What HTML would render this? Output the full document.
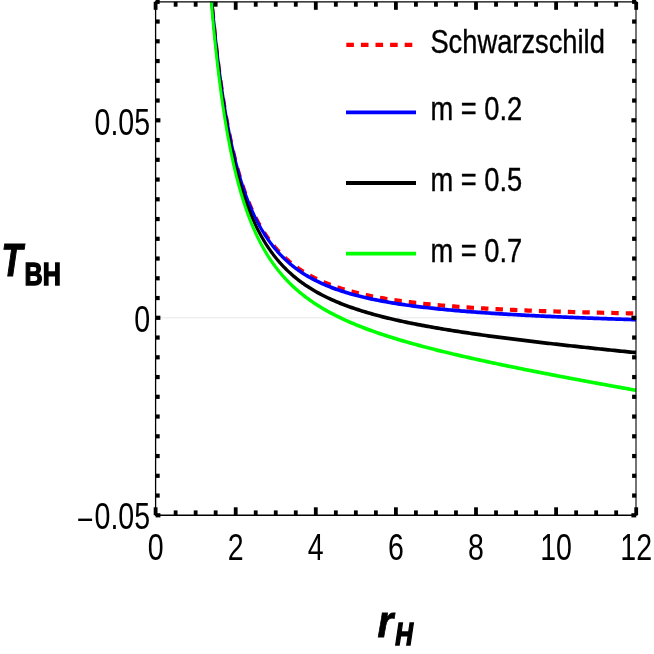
<!DOCTYPE html>
<html lang="en"><head><meta charset="utf-8"><title>T_BH vs r_H</title>
<style>html,body{margin:0;padding:0;background:#fff;}body{width:654px;height:654px;overflow:hidden;position:relative;font-family:"Liberation Sans",sans-serif;}</style></head>
<body>
<svg width="654" height="654" viewBox="0 0 654 654" style="position:absolute;left:0;top:0;will-change:transform;-webkit-font-smoothing:antialiased">
<rect x="0" y="0" width="654" height="654" fill="#fff"/>
<line x1="155.6" y1="317.8" x2="636.2" y2="317.8" stroke="#e8e8e8" stroke-width="1.0"/>
<defs><clipPath id="c"><rect x="194.49999999999997" y="1.8" width="600.75" height="513.5"/></clipPath></defs>
<g transform="scale(0.8,1)" clip-path="url(#c)" fill="none" stroke-width="3.7" stroke-linejoin="round">
<path d="M259.58,-54.18 L260.58,-42.99 L261.58,-32.30 L262.58,-22.08 L263.59,-12.30 L264.59,-2.94 L265.59,6.04 L266.59,14.64 L267.59,22.88 L268.59,30.80 L269.59,38.40 L270.59,45.71 L271.60,52.73 L272.60,59.48 L273.60,65.98 L274.60,72.24 L275.60,78.26 L276.60,84.07 L277.60,89.67 L278.61,95.07 L279.61,100.28 L280.61,105.31 L281.61,110.16 L282.61,114.85 L283.61,119.39 L284.61,123.77 L285.61,128.02 L286.62,132.12 L287.62,136.09 L288.62,139.94 L289.62,143.66 L290.62,147.27 L291.62,150.77 L292.62,154.16 L293.62,157.45 L294.62,160.64 L295.63,163.74 L296.63,166.74 L297.63,169.66 L298.63,172.50 L299.63,175.25 L300.63,177.93 L301.63,180.53 L302.63,183.06 L303.64,185.52 L304.64,187.92 L305.64,190.24 L306.64,192.51 L307.64,194.72 L308.64,196.87 L309.64,198.96 L310.64,201.00 L311.65,202.99 L312.65,204.93 L313.65,206.82 L314.65,208.66 L315.65,210.46 L316.65,212.21 L317.65,213.92 L318.66,215.59 L319.66,217.22 L320.66,218.81 L321.66,220.36 L322.66,221.88 L323.66,223.36 L324.66,224.81 L325.66,226.22 L326.66,227.60 L327.67,228.95 L328.67,230.27 L329.67,231.57 L330.67,232.83 L331.67,234.07 L332.67,235.27 L333.67,236.46 L334.68,237.62 L335.68,238.75 L336.68,239.86 L337.68,240.95 L338.68,242.01 L339.68,243.05 L340.68,244.07 L341.68,245.07 L342.69,246.05 L343.69,247.01 L344.69,247.95 L345.69,248.87 L346.69,249.78 L347.69,250.66 L348.69,251.53 L349.69,252.38 L350.70,253.22 L351.70,254.04 L352.70,254.85 L353.70,255.63 L354.70,256.41 L355.70,257.17 L356.70,257.92 L357.70,258.65 L358.71,259.37 L359.71,260.07 L360.71,260.77 L361.71,261.45 L362.71,262.12 L363.71,262.77 L364.71,263.42 L365.71,264.05 L366.72,264.68 L367.72,265.29 L368.72,265.89 L369.72,266.48 L370.72,267.06 L371.72,267.64 L372.72,268.20 L373.72,268.75 L374.73,269.29 L375.73,269.83 L376.73,270.35 L377.73,270.87 L378.73,271.38 L379.73,271.88 L380.73,272.37 L381.73,272.86 L382.74,273.33 L383.74,273.80 L384.74,274.27 L385.74,274.72 L386.74,275.17 L387.74,275.61 L388.74,276.04 L389.74,276.47 L390.75,276.89 L391.75,277.30 L392.75,277.71 L393.75,278.11 L394.75,278.51 L397.25,279.47 L399.76,280.40 L402.26,281.30 L404.76,282.16 L407.27,283.00 L409.77,283.80 L412.27,284.58 L414.77,285.33 L417.28,286.05 L419.78,286.76 L422.28,287.43 L424.79,288.09 L427.29,288.73 L429.79,289.34 L432.30,289.94 L434.80,290.52 L437.30,291.07 L439.81,291.62 L442.31,292.14 L444.81,292.65 L447.32,293.15 L449.82,293.63 L452.32,294.10 L454.82,294.55 L457.33,294.99 L459.83,295.42 L462.33,295.84 L464.84,296.24 L467.34,296.64 L469.84,297.02 L472.35,297.39 L474.85,297.75 L477.35,298.11 L479.86,298.45 L482.36,298.79 L484.86,299.11 L487.37,299.43 L489.87,299.74 L492.37,300.04 L494.87,300.34 L497.38,300.63 L499.88,300.91 L502.38,301.18 L504.89,301.45 L507.39,301.71 L509.89,301.96 L512.40,302.21 L514.90,302.45 L517.40,302.69 L519.91,302.92 L522.41,303.15 L524.91,303.37 L527.42,303.58 L529.92,303.80 L532.42,304.00 L534.92,304.20 L537.43,304.40 L539.93,304.60 L542.43,304.79 L544.94,304.97 L547.44,305.15 L549.94,305.33 L552.45,305.50 L554.95,305.67 L557.45,305.84 L559.96,306.00 L562.46,306.16 L564.96,306.32 L567.47,306.47 L569.97,306.62 L572.47,306.77 L574.97,306.92 L577.48,307.06 L579.98,307.20 L582.48,307.33 L584.99,307.47 L587.49,307.60 L589.99,307.73 L592.50,307.85 L595.00,307.98 L597.50,308.10 L600.01,308.22 L602.51,308.34 L605.01,308.45 L607.52,308.56 L610.02,308.67 L612.52,308.78 L615.02,308.89 L617.53,309.00 L620.03,309.10 L622.53,309.20 L625.04,309.30 L627.54,309.40 L630.04,309.49 L632.55,309.59 L635.05,309.68 L637.55,309.77 L640.06,309.86 L642.56,309.95 L645.06,310.04 L647.57,310.12 L650.07,310.21 L652.57,310.29 L655.08,310.37 L657.58,310.45 L660.08,310.53 L662.58,310.61 L665.09,310.69 L667.59,310.76 L670.09,310.83 L672.60,310.91 L675.10,310.98 L677.60,311.05 L680.11,311.12 L682.61,311.19 L685.11,311.25 L687.62,311.32 L690.12,311.39 L692.62,311.45 L695.13,311.51 L697.63,311.58 L700.13,311.64 L702.63,311.70 L705.14,311.76 L707.64,311.82 L710.14,311.87 L712.65,311.93 L715.15,311.99 L717.65,312.04 L720.16,312.10 L722.66,312.15 L725.16,312.21 L727.67,312.26 L730.17,312.31 L732.67,312.36 L735.18,312.41 L737.68,312.46 L740.18,312.51 L742.68,312.56 L745.19,312.60 L747.69,312.65 L750.19,312.70 L752.70,312.74 L755.20,312.79 L757.70,312.83 L760.21,312.88 L762.71,312.92 L765.21,312.96 L767.72,313.00 L770.22,313.05 L772.72,313.09 L775.23,313.13 L777.73,313.17 L780.23,313.21 L782.73,313.25 L785.24,313.29 L787.74,313.32 L790.24,313.36 L792.75,313.40 L795.25,313.43" stroke="#ff0000" stroke-dasharray="9.3 8.8" stroke-dashoffset="9.0" stroke-width="4.2"/>
<path d="M259.58,-53.50 L260.58,-42.30 L261.58,-31.60 L262.58,-21.37 L263.59,-11.58 L264.59,-2.20 L265.59,6.78 L266.59,15.39 L267.59,23.65 L268.59,31.58 L269.59,39.19 L270.59,46.50 L271.60,53.53 L272.60,60.30 L273.60,66.81 L274.60,73.07 L275.60,79.11 L276.60,84.93 L277.60,90.54 L278.61,95.95 L279.61,101.17 L280.61,106.21 L281.61,111.07 L282.61,115.78 L283.61,120.32 L284.61,124.72 L285.61,128.97 L286.62,133.08 L287.62,137.06 L288.62,140.92 L289.62,144.65 L290.62,148.27 L291.62,151.78 L292.62,155.18 L293.62,158.48 L294.62,161.69 L295.63,164.79 L296.63,167.81 L297.63,170.74 L298.63,173.58 L299.63,176.35 L300.63,179.04 L301.63,181.65 L302.63,184.19 L303.64,186.66 L304.64,189.07 L305.64,191.41 L306.64,193.68 L307.64,195.90 L308.64,198.06 L309.64,200.17 L310.64,202.22 L311.65,204.22 L312.65,206.16 L313.65,208.06 L314.65,209.92 L315.65,211.72 L316.65,213.49 L317.65,215.21 L318.66,216.89 L319.66,218.52 L320.66,220.13 L321.66,221.69 L322.66,223.22 L323.66,224.71 L324.66,226.17 L325.66,227.59 L326.66,228.98 L327.67,230.34 L328.67,231.68 L329.67,232.98 L330.67,234.25 L331.67,235.50 L332.67,236.72 L333.67,237.91 L334.68,239.08 L335.68,240.22 L336.68,241.34 L337.68,242.44 L338.68,243.51 L339.68,244.57 L340.68,245.60 L341.68,246.61 L342.69,247.60 L343.69,248.57 L344.69,249.52 L345.69,250.45 L346.69,251.37 L347.69,252.26 L348.69,253.14 L349.69,254.01 L350.70,254.85 L351.70,255.68 L352.70,256.50 L353.70,257.30 L354.70,258.08 L355.70,258.85 L356.70,259.61 L357.70,260.35 L358.71,261.08 L359.71,261.80 L360.71,262.50 L361.71,263.19 L362.71,263.87 L363.71,264.54 L364.71,265.20 L365.71,265.84 L366.72,266.48 L367.72,267.10 L368.72,267.71 L369.72,268.31 L370.72,268.90 L371.72,269.49 L372.72,270.06 L373.72,270.62 L374.73,271.18 L375.73,271.72 L376.73,272.26 L377.73,272.79 L378.73,273.30 L379.73,273.82 L380.73,274.32 L381.73,274.81 L382.74,275.30 L383.74,275.78 L384.74,276.25 L385.74,276.72 L386.74,277.18 L387.74,277.63 L388.74,278.07 L389.74,278.51 L390.75,278.94 L391.75,279.36 L392.75,279.78 L393.75,280.20 L394.75,280.60 L397.25,281.59 L399.76,282.55 L402.26,283.47 L404.76,284.36 L407.27,285.22 L409.77,286.05 L412.27,286.85 L414.77,287.63 L417.28,288.38 L419.78,289.11 L422.28,289.81 L424.79,290.50 L427.29,291.16 L429.79,291.80 L432.30,292.42 L434.80,293.03 L437.30,293.61 L439.81,294.18 L442.31,294.73 L444.81,295.27 L447.32,295.79 L449.82,296.30 L452.32,296.79 L454.82,297.27 L457.33,297.74 L459.83,298.19 L462.33,298.63 L464.84,299.07 L467.34,299.49 L469.84,299.89 L472.35,300.29 L474.85,300.68 L477.35,301.06 L479.86,301.43 L482.36,301.79 L484.86,302.15 L487.37,302.49 L489.87,302.83 L492.37,303.15 L494.87,303.48 L497.38,303.79 L499.88,304.10 L502.38,304.40 L504.89,304.69 L507.39,304.98 L509.89,305.26 L512.40,305.53 L514.90,305.80 L517.40,306.06 L519.91,306.32 L522.41,306.57 L524.91,306.82 L527.42,307.06 L529.92,307.30 L532.42,307.53 L534.92,307.76 L537.43,307.98 L539.93,308.20 L542.43,308.42 L544.94,308.63 L547.44,308.84 L549.94,309.04 L552.45,309.24 L554.95,309.44 L557.45,309.63 L559.96,309.82 L562.46,310.01 L564.96,310.19 L567.47,310.37 L569.97,310.55 L572.47,310.72 L574.97,310.89 L577.48,311.06 L579.98,311.22 L582.48,311.39 L584.99,311.55 L587.49,311.70 L589.99,311.86 L592.50,312.01 L595.00,312.16 L597.50,312.31 L600.01,312.45 L602.51,312.60 L605.01,312.74 L607.52,312.88 L610.02,313.02 L612.52,313.15 L615.02,313.28 L617.53,313.41 L620.03,313.54 L622.53,313.67 L625.04,313.80 L627.54,313.92 L630.04,314.04 L632.55,314.17 L635.05,314.28 L637.55,314.40 L640.06,314.52 L642.56,314.63 L645.06,314.75 L647.57,314.86 L650.07,314.97 L652.57,315.08 L655.08,315.18 L657.58,315.29 L660.08,315.40 L662.58,315.50 L665.09,315.60 L667.59,315.70 L670.09,315.80 L672.60,315.90 L675.10,316.00 L677.60,316.10 L680.11,316.19 L682.61,316.29 L685.11,316.38 L687.62,316.47 L690.12,316.56 L692.62,316.65 L695.13,316.74 L697.63,316.83 L700.13,316.92 L702.63,317.01 L705.14,317.09 L707.64,317.18 L710.14,317.26 L712.65,317.34 L715.15,317.43 L717.65,317.51 L720.16,317.59 L722.66,317.67 L725.16,317.75 L727.67,317.83 L730.17,317.91 L732.67,317.98 L735.18,318.06 L737.68,318.13 L740.18,318.21 L742.68,318.28 L745.19,318.36 L747.69,318.43 L750.19,318.50 L752.70,318.57 L755.20,318.65 L757.70,318.72 L760.21,318.79 L762.71,318.86 L765.21,318.92 L767.72,318.99 L770.22,319.06 L772.72,319.13 L775.23,319.19 L777.73,319.26 L780.23,319.33 L782.73,319.39 L785.24,319.46 L787.74,319.52 L790.24,319.58 L792.75,319.65 L795.25,319.71" stroke="#0000ff"/>
<path d="M259.58,-49.93 L260.58,-38.68 L261.58,-27.92 L262.58,-17.63 L263.59,-7.79 L264.59,1.64 L265.59,10.68 L266.59,19.34 L267.59,27.66 L268.59,35.64 L269.59,43.31 L270.59,50.68 L271.60,57.76 L272.60,64.58 L273.60,71.14 L274.60,77.47 L275.60,83.56 L276.60,89.43 L277.60,95.09 L278.61,100.56 L279.61,105.83 L280.61,110.93 L281.61,115.85 L282.61,120.61 L283.61,125.21 L284.61,129.66 L285.61,133.96 L286.62,138.13 L287.62,142.17 L288.62,146.08 L289.62,149.87 L290.62,153.55 L291.62,157.11 L292.62,160.57 L293.62,163.92 L294.62,167.18 L295.63,170.34 L296.63,173.41 L297.63,176.39 L298.63,179.29 L299.63,182.11 L300.63,184.86 L301.63,187.52 L302.63,190.12 L303.64,192.65 L304.64,195.11 L305.64,197.50 L306.64,199.83 L307.64,202.11 L308.64,204.32 L309.64,206.48 L310.64,208.59 L311.65,210.64 L312.65,212.64 L313.65,214.60 L314.65,216.51 L315.65,218.37 L316.65,220.19 L317.65,221.96 L318.66,223.69 L319.66,225.39 L320.66,227.04 L321.66,228.66 L322.66,230.24 L323.66,231.79 L324.66,233.30 L325.66,234.78 L326.66,236.23 L327.67,237.65 L328.67,239.03 L329.67,240.39 L330.67,241.72 L331.67,243.02 L332.67,244.30 L333.67,245.54 L334.68,246.77 L335.68,247.97 L336.68,249.14 L337.68,250.29 L338.68,251.42 L339.68,252.53 L340.68,253.62 L341.68,254.68 L342.69,255.73 L343.69,256.75 L344.69,257.76 L345.69,258.74 L346.69,259.71 L347.69,260.67 L348.69,261.60 L349.69,262.52 L350.70,263.42 L351.70,264.30 L352.70,265.17 L353.70,266.03 L354.70,266.87 L355.70,267.69 L356.70,268.51 L357.70,269.30 L358.71,270.09 L359.71,270.86 L360.71,271.62 L361.71,272.37 L362.71,273.10 L363.71,273.82 L364.71,274.53 L365.71,275.23 L366.72,275.92 L367.72,276.60 L368.72,277.27 L369.72,277.92 L370.72,278.57 L371.72,279.21 L372.72,279.83 L373.72,280.45 L374.73,281.06 L375.73,281.66 L376.73,282.25 L377.73,282.83 L378.73,283.41 L379.73,283.97 L380.73,284.53 L381.73,285.08 L382.74,285.62 L383.74,286.16 L384.74,286.69 L385.74,287.21 L386.74,287.72 L387.74,288.22 L388.74,288.72 L389.74,289.22 L390.75,289.70 L391.75,290.18 L392.75,290.66 L393.75,291.12 L394.75,291.58 L397.25,292.71 L399.76,293.80 L402.26,294.86 L404.76,295.89 L407.27,296.89 L409.77,297.86 L412.27,298.80 L414.77,299.71 L417.28,300.60 L419.78,301.46 L422.28,302.31 L424.79,303.13 L427.29,303.93 L429.79,304.70 L432.30,305.46 L434.80,306.20 L437.30,306.93 L439.81,307.63 L442.31,308.32 L444.81,309.00 L447.32,309.66 L449.82,310.30 L452.32,310.93 L454.82,311.55 L457.33,312.15 L459.83,312.74 L462.33,313.32 L464.84,313.89 L467.34,314.45 L469.84,315.00 L472.35,315.53 L474.85,316.06 L477.35,316.57 L479.86,317.08 L482.36,317.58 L484.86,318.07 L487.37,318.55 L489.87,319.03 L492.37,319.49 L494.87,319.95 L497.38,320.40 L499.88,320.84 L502.38,321.28 L504.89,321.71 L507.39,322.14 L509.89,322.55 L512.40,322.97 L514.90,323.37 L517.40,323.77 L519.91,324.17 L522.41,324.56 L524.91,324.94 L527.42,325.32 L529.92,325.70 L532.42,326.07 L534.92,326.43 L537.43,326.79 L539.93,327.15 L542.43,327.50 L544.94,327.85 L547.44,328.20 L549.94,328.54 L552.45,328.87 L554.95,329.21 L557.45,329.54 L559.96,329.86 L562.46,330.19 L564.96,330.51 L567.47,330.82 L569.97,331.14 L572.47,331.45 L574.97,331.76 L577.48,332.06 L579.98,332.37 L582.48,332.67 L584.99,332.96 L587.49,333.26 L589.99,333.55 L592.50,333.84 L595.00,334.13 L597.50,334.41 L600.01,334.69 L602.51,334.97 L605.01,335.25 L607.52,335.53 L610.02,335.80 L612.52,336.08 L615.02,336.35 L617.53,336.62 L620.03,336.88 L622.53,337.15 L625.04,337.41 L627.54,337.67 L630.04,337.93 L632.55,338.19 L635.05,338.45 L637.55,338.70 L640.06,338.95 L642.56,339.21 L645.06,339.46 L647.57,339.71 L650.07,339.95 L652.57,340.20 L655.08,340.44 L657.58,340.69 L660.08,340.93 L662.58,341.17 L665.09,341.41 L667.59,341.65 L670.09,341.89 L672.60,342.12 L675.10,342.36 L677.60,342.59 L680.11,342.82 L682.61,343.06 L685.11,343.29 L687.62,343.52 L690.12,343.75 L692.62,343.97 L695.13,344.20 L697.63,344.43 L700.13,344.65 L702.63,344.87 L705.14,345.10 L707.64,345.32 L710.14,345.54 L712.65,345.76 L715.15,345.98 L717.65,346.20 L720.16,346.42 L722.66,346.64 L725.16,346.85 L727.67,347.07 L730.17,347.28 L732.67,347.50 L735.18,347.71 L737.68,347.92 L740.18,348.14 L742.68,348.35 L745.19,348.56 L747.69,348.77 L750.19,348.98 L752.70,349.19 L755.20,349.40 L757.70,349.60 L760.21,349.81 L762.71,350.02 L765.21,350.23 L767.72,350.43 L770.22,350.64 L772.72,350.84 L775.23,351.04 L777.73,351.25 L780.23,351.45 L782.73,351.65 L785.24,351.85 L787.74,352.06 L790.24,352.26 L792.75,352.46 L795.25,352.66" stroke="#000000"/>
<path d="M259.58,-45.85 L260.58,-34.53 L261.58,-23.72 L262.58,-13.37 L263.59,-3.46 L264.59,6.03 L265.59,15.13 L266.59,23.86 L267.59,32.24 L268.59,40.28 L269.59,48.01 L270.59,55.45 L271.60,62.59 L272.60,69.48 L273.60,76.10 L274.60,82.49 L275.60,88.64 L276.60,94.58 L277.60,100.30 L278.61,105.83 L279.61,111.17 L280.61,116.33 L281.61,121.31 L282.61,126.13 L283.61,130.79 L284.61,135.31 L285.61,139.68 L286.62,143.91 L287.62,148.01 L288.62,151.98 L289.62,155.83 L290.62,159.57 L291.62,163.20 L292.62,166.72 L293.62,170.13 L294.62,173.45 L295.63,176.68 L296.63,179.81 L297.63,182.86 L298.63,185.82 L299.63,188.70 L300.63,191.51 L301.63,194.24 L302.63,196.90 L303.64,199.49 L304.64,202.01 L305.64,204.47 L306.64,206.86 L307.64,209.20 L308.64,211.48 L309.64,213.70 L310.64,215.87 L311.65,217.98 L312.65,220.05 L313.65,222.07 L314.65,224.04 L315.65,225.96 L316.65,227.84 L317.65,229.68 L318.66,231.48 L319.66,233.23 L320.66,234.95 L321.66,236.63 L322.66,238.28 L323.66,239.89 L324.66,241.46 L325.66,243.00 L326.66,244.52 L327.67,245.99 L328.67,247.44 L329.67,248.86 L330.67,250.26 L331.67,251.62 L332.67,252.96 L333.67,254.27 L334.68,255.55 L335.68,256.82 L336.68,258.05 L337.68,259.27 L338.68,260.46 L339.68,261.63 L340.68,262.78 L341.68,263.91 L342.69,265.01 L343.69,266.10 L344.69,267.17 L345.69,268.22 L346.69,269.25 L347.69,270.27 L348.69,271.26 L349.69,272.24 L350.70,273.21 L351.70,274.16 L352.70,275.09 L353.70,276.01 L354.70,276.91 L355.70,277.80 L356.70,278.67 L357.70,279.53 L358.71,280.38 L359.71,281.21 L360.71,282.04 L361.71,282.85 L362.71,283.64 L363.71,284.43 L364.71,285.20 L365.71,285.96 L366.72,286.71 L367.72,287.46 L368.72,288.19 L369.72,288.91 L370.72,289.61 L371.72,290.31 L372.72,291.00 L373.72,291.69 L374.73,292.36 L375.73,293.02 L376.73,293.67 L377.73,294.32 L378.73,294.96 L379.73,295.58 L380.73,296.20 L381.73,296.82 L382.74,297.42 L383.74,298.02 L384.74,298.61 L385.74,299.19 L386.74,299.77 L387.74,300.34 L388.74,300.90 L389.74,301.45 L390.75,302.00 L391.75,302.55 L392.75,303.08 L393.75,303.61 L394.75,304.14 L397.25,305.42 L399.76,306.67 L402.26,307.89 L404.76,309.07 L407.27,310.22 L409.77,311.35 L412.27,312.45 L414.77,313.52 L417.28,314.56 L419.78,315.59 L422.28,316.58 L424.79,317.56 L427.29,318.52 L429.79,319.45 L432.30,320.37 L434.80,321.27 L437.30,322.15 L439.81,323.01 L442.31,323.86 L444.81,324.69 L447.32,325.50 L449.82,326.30 L452.32,327.09 L454.82,327.87 L457.33,328.63 L459.83,329.37 L462.33,330.11 L464.84,330.84 L467.34,331.55 L469.84,332.25 L472.35,332.95 L474.85,333.63 L477.35,334.30 L479.86,334.97 L482.36,335.62 L484.86,336.27 L487.37,336.91 L489.87,337.54 L492.37,338.16 L494.87,338.78 L497.38,339.38 L499.88,339.99 L502.38,340.58 L504.89,341.17 L507.39,341.75 L509.89,342.32 L512.40,342.89 L514.90,343.45 L517.40,344.01 L519.91,344.56 L522.41,345.11 L524.91,345.65 L527.42,346.19 L529.92,346.72 L532.42,347.25 L534.92,347.77 L537.43,348.29 L539.93,348.80 L542.43,349.31 L544.94,349.82 L547.44,350.32 L549.94,350.82 L552.45,351.31 L554.95,351.80 L557.45,352.29 L559.96,352.77 L562.46,353.25 L564.96,353.73 L567.47,354.20 L569.97,354.67 L572.47,355.14 L574.97,355.61 L577.48,356.07 L579.98,356.53 L582.48,356.98 L584.99,357.44 L587.49,357.89 L589.99,358.34 L592.50,358.79 L595.00,359.23 L597.50,359.67 L600.01,360.11 L602.51,360.55 L605.01,360.98 L607.52,361.42 L610.02,361.85 L612.52,362.28 L615.02,362.71 L617.53,363.13 L620.03,363.55 L622.53,363.98 L625.04,364.40 L627.54,364.81 L630.04,365.23 L632.55,365.65 L635.05,366.06 L637.55,366.47 L640.06,366.88 L642.56,367.29 L645.06,367.70 L647.57,368.10 L650.07,368.51 L652.57,368.91 L655.08,369.31 L657.58,369.71 L660.08,370.11 L662.58,370.51 L665.09,370.91 L667.59,371.30 L670.09,371.70 L672.60,372.09 L675.10,372.48 L677.60,372.87 L680.11,373.26 L682.61,373.65 L685.11,374.04 L687.62,374.42 L690.12,374.81 L692.62,375.19 L695.13,375.58 L697.63,375.96 L700.13,376.34 L702.63,376.72 L705.14,377.10 L707.64,377.48 L710.14,377.86 L712.65,378.24 L715.15,378.62 L717.65,378.99 L720.16,379.37 L722.66,379.74 L725.16,380.11 L727.67,380.49 L730.17,380.86 L732.67,381.23 L735.18,381.60 L737.68,381.97 L740.18,382.34 L742.68,382.71 L745.19,383.08 L747.69,383.44 L750.19,383.81 L752.70,384.18 L755.20,384.54 L757.70,384.91 L760.21,385.27 L762.71,385.63 L765.21,386.00 L767.72,386.36 L770.22,386.72 L772.72,387.08 L775.23,387.44 L777.73,387.80 L780.23,388.16 L782.73,388.52 L785.24,388.88 L787.74,389.24 L790.24,389.60 L792.75,389.96 L795.25,390.31" stroke="#00ff00"/>
</g>
<g stroke="#000" fill="none"><line x1="155.6" y1="1.15" x2="155.6" y2="515.9499999999999" stroke-width="1.3"/><line x1="636.0" y1="1.15" x2="636.0" y2="515.9499999999999" stroke-width="1.1"/><line x1="155.6" y1="1.8" x2="636.2" y2="1.8" stroke-width="1.25"/><line x1="155.6" y1="515.3" x2="636.2" y2="515.3" stroke-width="1.4"/></g>
<g fill="#000"><rect x="153.70" y="507.30" width="3.8" height="8.0"/><rect x="153.70" y="1.80" width="3.8" height="8.0"/><rect x="173.72" y="510.40" width="3.8" height="4.9"/><rect x="173.72" y="1.80" width="3.8" height="4.9"/><rect x="193.75" y="510.40" width="3.8" height="4.9"/><rect x="193.75" y="1.80" width="3.8" height="4.9"/><rect x="213.77" y="510.40" width="3.8" height="4.9"/><rect x="213.77" y="1.80" width="3.8" height="4.9"/><rect x="233.80" y="507.30" width="3.8" height="8.0"/><rect x="233.80" y="1.80" width="3.8" height="8.0"/><rect x="253.82" y="510.40" width="3.8" height="4.9"/><rect x="253.82" y="1.80" width="3.8" height="4.9"/><rect x="273.85" y="510.40" width="3.8" height="4.9"/><rect x="273.85" y="1.80" width="3.8" height="4.9"/><rect x="293.88" y="510.40" width="3.8" height="4.9"/><rect x="293.88" y="1.80" width="3.8" height="4.9"/><rect x="313.90" y="507.30" width="3.8" height="8.0"/><rect x="313.90" y="1.80" width="3.8" height="8.0"/><rect x="333.93" y="510.40" width="3.8" height="4.9"/><rect x="333.93" y="1.80" width="3.8" height="4.9"/><rect x="353.95" y="510.40" width="3.8" height="4.9"/><rect x="353.95" y="1.80" width="3.8" height="4.9"/><rect x="373.98" y="510.40" width="3.8" height="4.9"/><rect x="373.98" y="1.80" width="3.8" height="4.9"/><rect x="394.00" y="507.30" width="3.8" height="8.0"/><rect x="394.00" y="1.80" width="3.8" height="8.0"/><rect x="414.02" y="510.40" width="3.8" height="4.9"/><rect x="414.02" y="1.80" width="3.8" height="4.9"/><rect x="434.05" y="510.40" width="3.8" height="4.9"/><rect x="434.05" y="1.80" width="3.8" height="4.9"/><rect x="454.08" y="510.40" width="3.8" height="4.9"/><rect x="454.08" y="1.80" width="3.8" height="4.9"/><rect x="474.10" y="507.30" width="3.8" height="8.0"/><rect x="474.10" y="1.80" width="3.8" height="8.0"/><rect x="494.12" y="510.40" width="3.8" height="4.9"/><rect x="494.12" y="1.80" width="3.8" height="4.9"/><rect x="514.15" y="510.40" width="3.8" height="4.9"/><rect x="514.15" y="1.80" width="3.8" height="4.9"/><rect x="534.17" y="510.40" width="3.8" height="4.9"/><rect x="534.17" y="1.80" width="3.8" height="4.9"/><rect x="554.20" y="507.30" width="3.8" height="8.0"/><rect x="554.20" y="1.80" width="3.8" height="8.0"/><rect x="574.23" y="510.40" width="3.8" height="4.9"/><rect x="574.23" y="1.80" width="3.8" height="4.9"/><rect x="594.25" y="510.40" width="3.8" height="4.9"/><rect x="594.25" y="1.80" width="3.8" height="4.9"/><rect x="614.27" y="510.40" width="3.8" height="4.9"/><rect x="614.27" y="1.80" width="3.8" height="4.9"/><rect x="634.30" y="507.30" width="3.8" height="8.0"/><rect x="634.30" y="1.80" width="3.8" height="8.0"/><rect x="155.60" y="513.20" width="4.8" height="4.2"/><rect x="631.40" y="513.20" width="4.8" height="4.2"/><rect x="155.60" y="493.45" width="4.1" height="4.2"/><rect x="632.10" y="493.45" width="4.1" height="4.2"/><rect x="155.60" y="473.70" width="4.1" height="4.2"/><rect x="632.10" y="473.70" width="4.1" height="4.2"/><rect x="155.60" y="453.95" width="4.1" height="4.2"/><rect x="632.10" y="453.95" width="4.1" height="4.2"/><rect x="155.60" y="434.20" width="4.1" height="4.2"/><rect x="632.10" y="434.20" width="4.1" height="4.2"/><rect x="155.60" y="414.45" width="4.1" height="4.2"/><rect x="632.10" y="414.45" width="4.1" height="4.2"/><rect x="155.60" y="394.70" width="4.1" height="4.2"/><rect x="632.10" y="394.70" width="4.1" height="4.2"/><rect x="155.60" y="374.95" width="4.1" height="4.2"/><rect x="632.10" y="374.95" width="4.1" height="4.2"/><rect x="155.60" y="355.20" width="4.1" height="4.2"/><rect x="632.10" y="355.20" width="4.1" height="4.2"/><rect x="155.60" y="335.45" width="4.1" height="4.2"/><rect x="632.10" y="335.45" width="4.1" height="4.2"/><rect x="155.60" y="315.70" width="4.8" height="4.2"/><rect x="631.40" y="315.70" width="4.8" height="4.2"/><rect x="155.60" y="295.95" width="4.1" height="4.2"/><rect x="632.10" y="295.95" width="4.1" height="4.2"/><rect x="155.60" y="276.20" width="4.1" height="4.2"/><rect x="632.10" y="276.20" width="4.1" height="4.2"/><rect x="155.60" y="256.45" width="4.1" height="4.2"/><rect x="632.10" y="256.45" width="4.1" height="4.2"/><rect x="155.60" y="236.70" width="4.1" height="4.2"/><rect x="632.10" y="236.70" width="4.1" height="4.2"/><rect x="155.60" y="216.95" width="4.1" height="4.2"/><rect x="632.10" y="216.95" width="4.1" height="4.2"/><rect x="155.60" y="197.20" width="4.1" height="4.2"/><rect x="632.10" y="197.20" width="4.1" height="4.2"/><rect x="155.60" y="177.45" width="4.1" height="4.2"/><rect x="632.10" y="177.45" width="4.1" height="4.2"/><rect x="155.60" y="157.70" width="4.1" height="4.2"/><rect x="632.10" y="157.70" width="4.1" height="4.2"/><rect x="155.60" y="137.95" width="4.1" height="4.2"/><rect x="632.10" y="137.95" width="4.1" height="4.2"/><rect x="155.60" y="118.20" width="4.8" height="4.2"/><rect x="631.40" y="118.20" width="4.8" height="4.2"/><rect x="155.60" y="98.45" width="4.1" height="4.2"/><rect x="632.10" y="98.45" width="4.1" height="4.2"/><rect x="155.60" y="78.70" width="4.1" height="4.2"/><rect x="632.10" y="78.70" width="4.1" height="4.2"/><rect x="155.60" y="58.95" width="4.1" height="4.2"/><rect x="632.10" y="58.95" width="4.1" height="4.2"/><rect x="155.60" y="39.20" width="4.1" height="4.2"/><rect x="632.10" y="39.20" width="4.1" height="4.2"/><rect x="155.60" y="19.45" width="4.1" height="4.2"/><rect x="632.10" y="19.45" width="4.1" height="4.2"/><rect x="155.60" y="-0.30" width="4.1" height="4.2"/><rect x="632.10" y="-0.30" width="4.1" height="4.2"/></g>
<g fill="none" stroke-width="3.8">
<line x1="346.3" y1="44.9" x2="412.4" y2="44.9" stroke="#ff0000" stroke-width="4.2" stroke-dasharray="7.6 7.0"/>
<line x1="346" y1="112.4" x2="416" y2="112.4" stroke="#0000ff"/>
<line x1="346" y1="183.0" x2="416" y2="183.0" stroke="#000"/>
<line x1="346" y1="253.6" x2="416" y2="253.6" stroke="#00ff00"/>
</g>
<g font-family="'Liberation Sans', sans-serif" fill="#000">
<text transform="translate(430.4,53.1) scale(0.803,1)" font-size="34.0" text-anchor="start" font-weight="normal" font-style="normal" stroke="#000" stroke-width="0.4">Schwarzschild</text>
<text transform="translate(430.4,120.3) scale(0.803,1)" font-size="34.0" text-anchor="start" font-weight="normal" font-style="normal" stroke="#000" stroke-width="0.4">m = 0.2</text>
<text transform="translate(430.4,190.9) scale(0.803,1)" font-size="34.0" text-anchor="start" font-weight="normal" font-style="normal" stroke="#000" stroke-width="0.4">m = 0.5</text>
<text transform="translate(430.4,261.5) scale(0.803,1)" font-size="34.0" text-anchor="start" font-weight="normal" font-style="normal" stroke="#000" stroke-width="0.4">m = 0.7</text>
<text transform="translate(155.6,560.4) scale(0.793,1)" font-size="36.0" text-anchor="middle" font-weight="normal" font-style="normal" >0</text>
<text transform="translate(235.7,560.4) scale(0.793,1)" font-size="36.0" text-anchor="middle" font-weight="normal" font-style="normal" >2</text>
<text transform="translate(315.79999999999995,560.4) scale(0.793,1)" font-size="36.0" text-anchor="middle" font-weight="normal" font-style="normal" >4</text>
<text transform="translate(395.9,560.4) scale(0.793,1)" font-size="36.0" text-anchor="middle" font-weight="normal" font-style="normal" >6</text>
<text transform="translate(476.0,560.4) scale(0.793,1)" font-size="36.0" text-anchor="middle" font-weight="normal" font-style="normal" >8</text>
<text transform="translate(556.1,560.4) scale(0.793,1)" font-size="36.0" text-anchor="middle" font-weight="normal" font-style="normal" >10</text>
<text transform="translate(636.1999999999999,560.4) scale(0.793,1)" font-size="36.0" text-anchor="middle" font-weight="normal" font-style="normal" >12</text>
<text transform="translate(150.1,134.5) scale(0.793,1)" font-size="36.0" text-anchor="end" font-weight="normal" font-style="normal" >0.05</text>
<text transform="translate(150.1,331.9) scale(0.793,1)" font-size="36.0" text-anchor="end" font-weight="normal" font-style="normal" >0</text>
<text transform="translate(150.1,529.0) scale(0.793,1)" font-size="36.0" text-anchor="end" font-weight="normal" font-style="normal" >0.05</text>
<rect x="78.2" y="518.6" width="13.9" height="2.4"/>
<text transform="translate(1.6,276.1) scale(0.75,1)" font-size="46.0" text-anchor="start" font-weight="bold" font-style="italic" stroke="#000" stroke-width="1.2" stroke-linejoin="miter">T</text>
<text transform="translate(24.6,285.3) scale(0.8,1)" font-size="31.4" text-anchor="start" font-weight="bold" font-style="normal" stroke="#000" stroke-width="1.4" stroke-linejoin="miter">BH</text>
<text transform="translate(377.6,636.6) scale(0.9,1)" font-size="45.2" text-anchor="start" font-weight="bold" font-style="italic" stroke="#000" stroke-width="0.8">r</text>
<text transform="translate(395.2,645.3) scale(0.78,1)" font-size="31.5" text-anchor="start" font-weight="bold" font-style="italic" stroke="#000" stroke-width="1.5" stroke-linejoin="miter">H</text>
</g>
</svg>
</body></html>
